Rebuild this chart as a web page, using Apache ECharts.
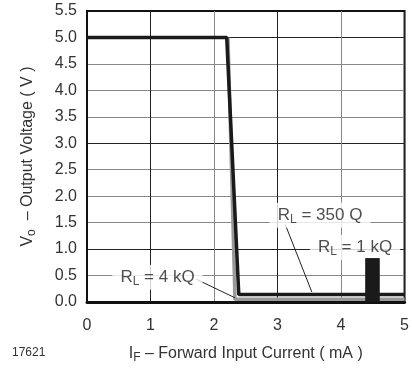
<!DOCTYPE html>
<html><head><meta charset="utf-8">
<script src="https://cdn.jsdelivr.net/npm/echarts@6/dist/echarts.min.js"></script>
<style>html,body{margin:0;padding:0;background:#fff}#c{width:412px;height:369px}</style>
</head><body><div id="c"></div>
<script>
// Data
const xTicks = [0, 1, 2, 3, 4, 5];
const yTicks = [0, 0.5, 1, 1.5, 2, 2.5, 3, 3.5, 4, 4.5, 5, 5.5];
const curveDark = [[0, 5.0], [2.2, 5.0], [2.39, 0.14], [5, 0.14]];   // black curve
const curveGray = [[2.22, 5.0], [2.33, 0.05], [5, 0.05]];            // gray curve
const darkBlock = [[4.38, 0], [4.38, 0.83], [4.61, 0.83], [4.61, 0]];
const labels = [
  { x: 3.67, y: 1.64, main: '350 Q' },
  { x: 4.22, y: 1.03, main: '1 kQ' },
  { x: 1.11, y: 0.47, main: '4 kQ' }
];
const leader350 = [[3.12, 1.47], [3.54, 0.19]];
const leader4k = [[1.72, 0.43], [2.33, 0.08]];

const FONT = 'Liberation Sans, Arial, sans-serif';
const chart = echarts.init(document.getElementById('c'));
chart.setOption({
  animation: false,
  backgroundColor: '#fff',
  grid: { left: 87, right: 0, top: 11, bottom: 66, show: true, borderColor: '#111', borderWidth: 2, backgroundColor: 'transparent' },
  xAxis: {
    type: 'value', min: 0, max: 5, interval: 1,
    axisLine: { show: true, onZero: false, lineStyle: { color: '#111', width: 3 } },
    axisTick: { show: false },
    axisLabel: { color: '#333', fontSize: 16, fontFamily: FONT, margin: 16 },
    splitLine: { show: true, lineStyle: { color: ['#888', '#222'], width: 1 } },
    name: '{n|I}{s|F}{n| – Forward Input Current ( mA )}',
    nameLocation: 'middle', nameGap: 42,
    nameTextStyle: { rich: {
      n: { fontSize: 16, fontFamily: FONT, color: '#333' },
      s: { fontSize: 12, fontFamily: FONT, color: '#333', padding: [8, 0, 0, 0] }
    } }
  },
  yAxis: {
    type: 'value', min: 0, max: 5.5, interval: 0.5,
    axisLine: { show: true, lineStyle: { color: '#111', width: 2 } },
    axisTick: { show: false },
    axisLabel: { color: '#333', fontSize: 16, fontFamily: FONT, margin: 10, formatter: v => v.toFixed(1) },
    splitLine: { show: true, showMaxLine: false, lineStyle: { color: ['#888', '#888', '#222', '#888'], width: 1 } },
    name: '{n|V}{s|o}{n|  – Output Voltage ( V )}',
    nameLocation: 'middle', nameGap: 49, nameRotate: 90,
    nameTextStyle: { rich: {
      n: { fontSize: 16, fontFamily: FONT, color: '#333' },
      s: { fontSize: 12, fontFamily: FONT, color: '#333', padding: [8, 0, 0, 0] }
    } }
  },
  graphic: [{
    type: 'text', left: 12, top: 347,
    style: { text: '17621', fontSize: 12, fontFamily: FONT, fill: '#333' }
  }],
  series: [
    { type: 'line', data: curveGray, symbol: 'none', lineStyle: { color: '#999', width: 3.5 }, z: 3 },
    { type: 'line', data: curveDark, symbol: 'none', lineStyle: { color: '#1a1a1a', width: 3.5 }, z: 4 },
    { type: 'line', data: darkBlock, symbol: 'none', lineStyle: { width: 0 }, areaStyle: { color: '#1a1a1a', opacity: 1 }, z: 8 },
    { type: 'line', data: leader350, symbol: 'none', lineStyle: { color: '#222', width: 1 }, z: 5 },
    { type: 'line', data: leader4k, symbol: 'none', lineStyle: { color: '#222', width: 1 }, z: 5 },
    {
      type: 'scatter', symbolSize: 0, z: 6,
      data: labels.map(l => ({ value: [l.x, l.y], name: l.main })),
      label: {
        show: true, position: 'inside',
        formatter: p => '{n|R}{s|L}{n| = ' + p.name + '}',
        backgroundColor: '#fff', padding: [2, 8, 2, 8],
        rich: {
          n: { fontSize: 17, fontFamily: FONT, color: '#222' },
          s: { fontSize: 12, fontFamily: FONT, color: '#222', padding: [9, 0, 0, 0] }
        }
      }
    }
  ]
});
</script></body></html>
